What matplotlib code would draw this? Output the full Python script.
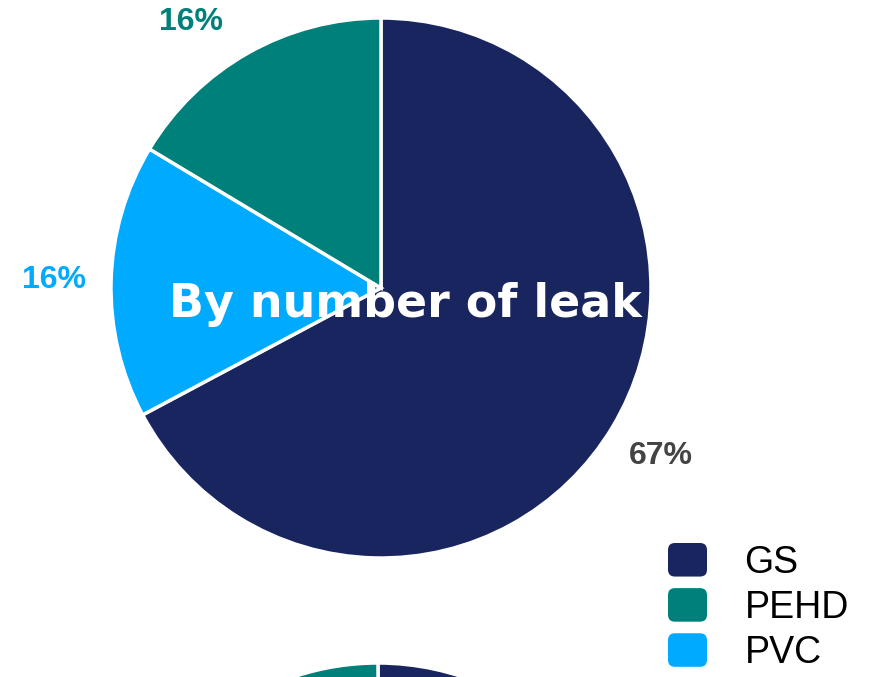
import matplotlib
matplotlib.use("Agg")
import numpy as np
import matplotlib.pyplot as plt
from matplotlib.patches import Patch, FancyBboxPatch
from matplotlib.legend_handler import HandlerPatch

# leak counts by pipe material
materials = ['GS', 'PEHD', 'PVC']
pie_order = ['GS', 'PVC', 'PEHD']     # clockwise from 12 o'clock
pie_leaks = [41, 10, 10]
# second chart (only its top is visible in the frame)
length_order = ['GS', 'PVC', 'PEHD']
length_vals = [55, 25, 20]

colors = {'GS': '#19255f', 'PEHD': '#00807a', 'PVC': '#00aaff'}
label_colors = {'GS': '#444444', 'PEHD': '#00807a', 'PVC': '#00aaff'}

plt.rcParams['font.family'] = ['Liberation Sans', 'DejaVu Sans']

W, H = 879, 677
fig = plt.figure(figsize=(W / 100, H / 100), dpi=100)
ax = fig.add_axes([0, 0, 1, 1])

R = 270
cx, cy = 381, H - 288
wedges, texts, autotexts = ax.pie(
    pie_leaks, colors=[colors[m] for m in pie_order],
    startangle=90, counterclock=False, center=(cx, cy), radius=R,
    wedgeprops=dict(edgecolor='white', linewidth=2.5),
    autopct=lambda p: '%d%%' % round(p), pctdistance=1.21, frame=True)
for t, m in zip(autotexts, pie_order):
    t.set_color(label_colors[m])
    t.set_fontsize(23)
    t.set_fontweight('bold')
    x, y = t.get_position()
    # keep labels inside the frame: slide along the label circle
    ymax = H - 22
    if y > ymax:
        r = np.hypot(x - cx, y - cy)
        x = cx + np.sign(x - cx) * np.sqrt(r ** 2 - (ymax - cy) ** 2)
        y = ymax
    t.set_position((x, y))

ax.pie(length_vals, colors=[colors[m] for m in length_order],
       startangle=90, counterclock=False, center=(378, H - 928), radius=265,
       wedgeprops=dict(edgecolor='white', linewidth=2.5), frame=True)
ax.set_xlim(0, W)
ax.set_ylim(0, H)
ax.set_aspect('equal')
ax.axis('off')

ax.text(405, H - 317, 'By number of leak', color='white', fontsize=33,
        fontweight='bold', family='DejaVu Sans', ha='center', va='baseline')


class RoundHandler(HandlerPatch):
    def create_artists(self, legend, orig_handle, xdescent, ydescent,
                       width, height, fontsize, trans):
        p = FancyBboxPatch((-xdescent + 3, -ydescent + 3), width - 6, height - 6,
                           boxstyle='round,pad=3,rounding_size=5',
                           facecolor=orig_handle.get_facecolor(),
                           edgecolor='none', transform=trans)
        return [p]


handles = [Patch(facecolor=colors[m]) for m in materials]
leg = fig.legend(handles, materials, loc='upper left',
                 bbox_to_anchor=(668 / W, 1 - 543 / H), frameon=False,
                 fontsize=27, handlelength=1.04, handleheight=1.0,
                 handletextpad=1.0, labelspacing=0.2, borderpad=0,
                 borderaxespad=0,
                 handler_map={Patch: RoundHandler()})

fig.savefig('out.png', dpi=100)
